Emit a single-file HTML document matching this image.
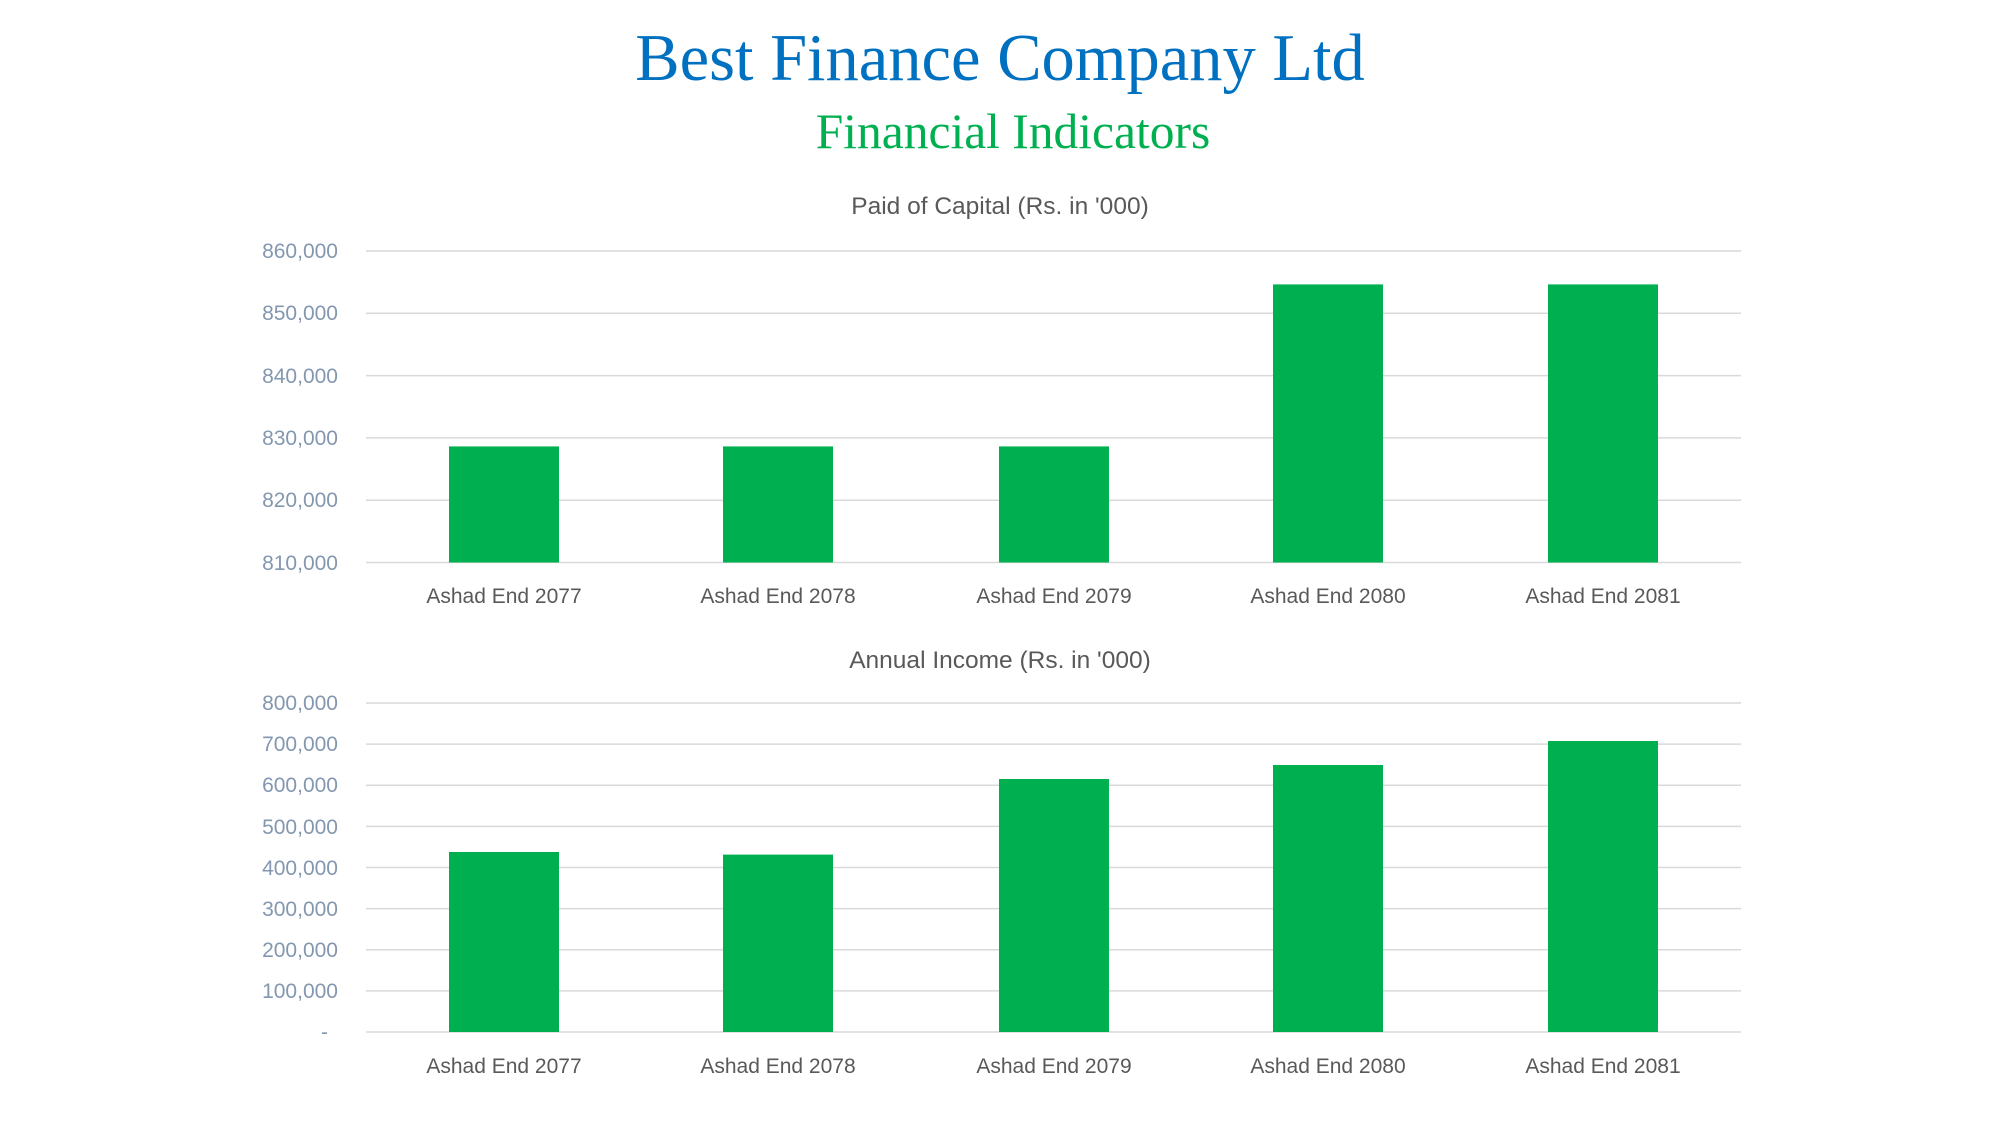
<!DOCTYPE html>
<html><head><meta charset="utf-8"><style>html,body{margin:0;padding:0;background:#fff}</style></head>
<body>
<svg width="2000" height="1125" xmlns="http://www.w3.org/2000/svg">
<rect width="2000" height="1125" fill="#fff"/>
<text x="1000" y="80" text-anchor="middle" font-family="Liberation Serif, serif" font-size="66.5" fill="#0070C0">Best Finance Company Ltd</text>
<text x="1013" y="148" text-anchor="middle" font-family="Liberation Serif, serif" font-size="49.5" fill="#00B050">Financial Indicators</text>
<g font-family="Liberation Sans, sans-serif">
<text x="1000" y="214" text-anchor="middle" font-size="24.5" fill="#595959">Paid of Capital (Rs. in '000)</text>
<g stroke="#d9d9d9" stroke-width="1.5">
<line x1="366" x2="1741" y1="251" y2="251"/><line x1="366" x2="1741" y1="313.3" y2="313.3"/>
<line x1="366" x2="1741" y1="375.6" y2="375.6"/><line x1="366" x2="1741" y1="437.9" y2="437.9"/>
<line x1="366" x2="1741" y1="500.2" y2="500.2"/><line x1="366" x2="1741" y1="562.5" y2="562.5"/>
</g>
<g font-size="21" fill="#8497B0" text-anchor="end">
<text x="338" y="258">860,000</text><text x="338" y="320">850,000</text><text x="338" y="383">840,000</text>
<text x="338" y="445">830,000</text><text x="338" y="507">820,000</text><text x="338" y="570">810,000</text>
</g>
<g fill="#00B050">
<rect x="449" y="446.4" width="110" height="116.1"/><rect x="723" y="446.4" width="110" height="116.1"/>
<rect x="999" y="446.4" width="110" height="116.1"/><rect x="1273" y="284.4" width="110" height="278.1"/>
<rect x="1548" y="284.4" width="110" height="278.1"/>
</g>
<g font-size="21" fill="#595959" text-anchor="middle">
<text x="504" y="603">Ashad End 2077</text><text x="778" y="603">Ashad End 2078</text><text x="1054" y="603">Ashad End 2079</text>
<text x="1328" y="603">Ashad End 2080</text><text x="1603" y="603">Ashad End 2081</text>
</g>
<text x="1000" y="668" text-anchor="middle" font-size="24.5" fill="#595959">Annual Income (Rs. in '000)</text>
<g stroke="#d9d9d9" stroke-width="1.5">
<line x1="366" x2="1741" y1="703" y2="703"/><line x1="366" x2="1741" y1="744.1" y2="744.1"/>
<line x1="366" x2="1741" y1="785.25" y2="785.25"/><line x1="366" x2="1741" y1="826.4" y2="826.4"/>
<line x1="366" x2="1741" y1="867.5" y2="867.5"/><line x1="366" x2="1741" y1="908.6" y2="908.6"/>
<line x1="366" x2="1741" y1="949.75" y2="949.75"/><line x1="366" x2="1741" y1="990.9" y2="990.9"/>
<line x1="366" x2="1741" y1="1032" y2="1032"/>
</g>
<g font-size="21" fill="#8497B0" text-anchor="end">
<text x="338" y="710">800,000</text><text x="338" y="751">700,000</text><text x="338" y="792">600,000</text>
<text x="338" y="834">500,000</text><text x="338" y="875">400,000</text><text x="338" y="916">300,000</text>
<text x="338" y="957">200,000</text><text x="338" y="998">100,000</text><text x="328" y="1039">-</text>
</g>
<g fill="#00B050">
<rect x="449" y="852" width="110" height="180"/><rect x="723" y="854.6" width="110" height="177.4"/>
<rect x="999" y="779" width="110" height="253"/><rect x="1273" y="765" width="110" height="267"/>
<rect x="1548" y="741" width="110" height="291"/>
</g>
<g font-size="21" fill="#595959" text-anchor="middle">
<text x="504" y="1073">Ashad End 2077</text><text x="778" y="1073">Ashad End 2078</text><text x="1054" y="1073">Ashad End 2079</text>
<text x="1328" y="1073">Ashad End 2080</text><text x="1603" y="1073">Ashad End 2081</text>
</g>
</g>
</svg>
</body></html>
